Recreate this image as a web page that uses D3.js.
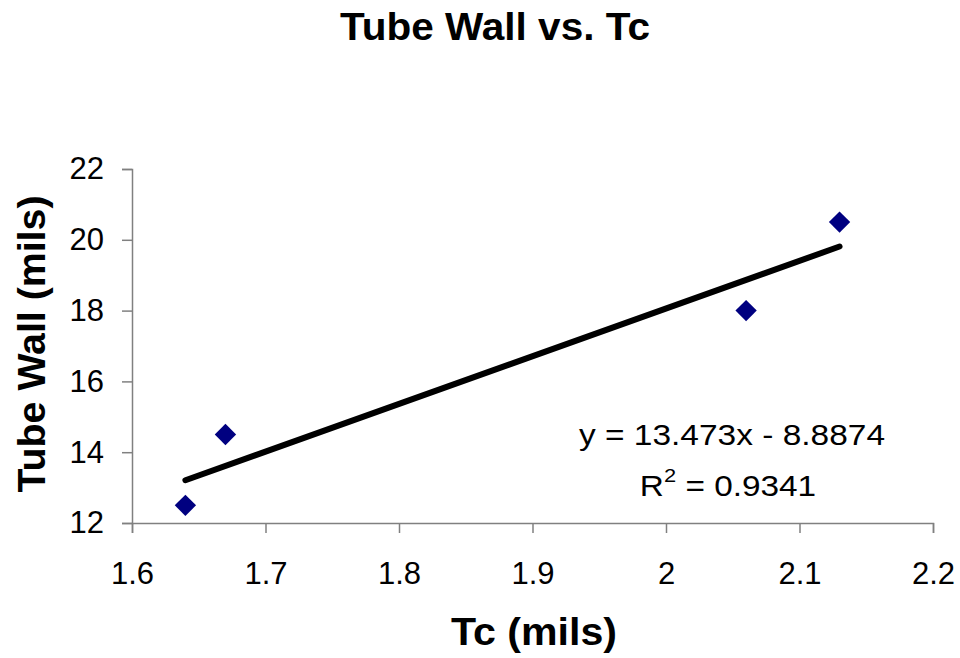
<!DOCTYPE html>
<html><head><meta charset="utf-8">
<script src="https://cdn.jsdelivr.net/npm/d3@7"></script>
<style>body{margin:0;background:#fff}svg{display:block}text{font-family:"Liberation Sans",Arial,sans-serif}</style>
</head><body>
<svg id="c" width="960" height="658"></svg>
<script>
const tcValues = [1.64, 1.67, 2.06, 2.13];
const wallValues = [12.5, 14.5, 18, 20.5];
const xTicks = [1.6, 1.7, 1.8, 1.9, 2, 2.1, 2.2];
const yTicks = [12, 14, 16, 18, 20, 22];
const slope = 13.473, intercept = -8.8874, r2 = 0.9341;

const svg = d3.select("#c");
const x = d3.scaleLinear().domain([1.6, 2.2]).range([132, 933]);
const y = d3.scaleLinear().domain([12, 22]).range([523, 169]);

const gx = svg.append("g").attr("transform", "translate(0,523)")
  .call(d3.axisBottom(x).tickValues(xTicks).tickFormat(d => String(d)).tickSizeOuter(0).tickSize(10).tickPadding(29));
const gy = svg.append("g").attr("transform", "translate(132,0)")
  .call(d3.axisLeft(y).tickValues(yTicks).tickFormat(d => String(d)).tickSizeOuter(0).tickSize(10).tickPadding(18));
[gx, gy].forEach(g => {
  g.attr("font-size", null).attr("font-family", null);
  g.select(".domain").attr("stroke", "#808080").attr("stroke-width", 1.5);
  g.selectAll(".tick line").attr("stroke", "#808080").attr("stroke-width", 1.5);
  g.selectAll(".tick text").attr("fill", "#000").style("font-size", "31px");
});

// trendline
const x0 = d3.min(tcValues), x1 = d3.max(tcValues);
svg.append("line")
  .attr("x1", x(x0)).attr("y1", y(slope * x0 + intercept))
  .attr("x2", x(x1)).attr("y2", y(slope * x1 + intercept))
  .attr("stroke", "#000").attr("stroke-width", 6).attr("stroke-linecap", "round");

// points
svg.selectAll("path.pt").data(tcValues).enter().append("path")
  .attr("class", "pt")
  .attr("d", d3.symbol(d3.symbolDiamond2, 290)())
  .attr("transform", (d, i) => `translate(${x(d)},${y(wallValues[i])})`)
  .attr("fill", "#000080");

// equation
svg.append("text").attr("x", 732).attr("y", 445).attr("text-anchor", "middle")
  .attr("textLength", 306).attr("lengthAdjust", "spacingAndGlyphs")
  .style("font-size", "29px").text(`y = ${slope}x - ${Math.abs(intercept)}`);
const rg = svg.append("g").attr("transform", "translate(728,496) scale(1.15,1)");
const rt = rg.append("text").attr("x", 0).attr("y", 0).attr("text-anchor", "middle").style("font-size", "29px");
rt.append("tspan").text("R");
rt.append("tspan").attr("dy", -14).style("font-size", "19px").text("2");
rt.append("tspan").attr("dy", 14).text(` = ${r2}`);

// titles
svg.append("text").attr("x", 495).attr("y", 40).attr("text-anchor", "middle")
  .attr("textLength", 310).attr("lengthAdjust", "spacingAndGlyphs")
  .style("font-size", "38px").style("font-weight", "bold").text("Tube Wall vs. Tc");
svg.append("text").attr("x", 534).attr("y", 645).attr("text-anchor", "middle")
  .attr("textLength", 166).attr("lengthAdjust", "spacingAndGlyphs")
  .style("font-size", "38px").style("font-weight", "bold").text("Tc (mils)");
svg.append("text").attr("transform", "translate(45,344) rotate(-90)").attr("text-anchor", "middle")
  .attr("textLength", 297).attr("lengthAdjust", "spacingAndGlyphs")
  .style("font-size", "38px").style("font-weight", "bold").text("Tube Wall (mils)");
</script>
</body></html>
